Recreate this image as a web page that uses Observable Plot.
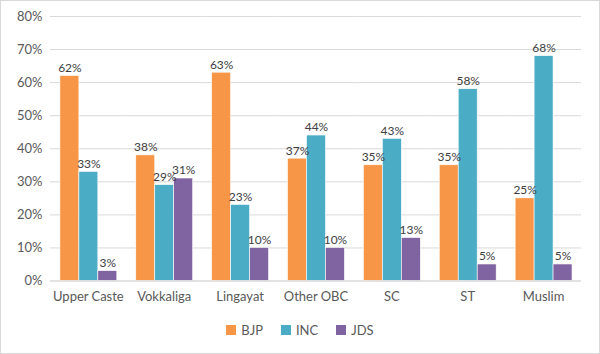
<!DOCTYPE html>
<html>
<head>
<meta charset="utf-8">
<script src="https://cdn.jsdelivr.net/npm/d3@7"></script>
<script src="https://cdn.jsdelivr.net/npm/@observablehq/plot@0.6"></script>
<style>
  html, body { margin: 0; padding: 0; background: #fff; }
  #frame { width: 600px; height: 354px; box-sizing: border-box; border: 1px solid #d9d9d9; position: relative; overflow: hidden; font-family: Lato, "Open Sans", sans-serif; }
  #chart { position: absolute; left: -1px; top: -1px; }
  #legend { position: absolute; left: 0; right: 0; top: 321px; display: flex; justify-content: center; gap: 18px; font-size: 13px; color: #595959; }
  #legend span.item { display: flex; align-items: center; gap: 5px; }
  #legend span.sw { width: 10px; height: 10px; display: inline-block; }
</style>
</head>
<body>
<div id="frame"><div id="chart"></div><div id="legend"></div></div>
<script>
const categories = ["Upper Caste", "Vokkaliga", "Lingayat", "Other OBC", "SC", "ST", "Muslim"];
const parties = ["BJP", "INC", "JDS"];
const colors = ["#F79646", "#4BACC6", "#8064A2"];
const bjp = [62, 38, 63, 37, 35, 35, 25];
const inc = [33, 29, 23, 44, 43, 58, 68];
const jds = [3, 31, 10, 10, 13, 5, 5];
const yTicks = [0, 10, 20, 30, 40, 50, 60, 70, 80];

const series = {BJP: bjp, INC: inc, JDS: jds};
const data = [];
categories.forEach((c, i) => parties.forEach(p => data.push({cat: c, party: p, value: series[p][i]})));

const chart = Plot.plot({
  width: 600,
  height: 310,
  marginLeft: 48,
  marginRight: 16,
  marginTop: 16,
  marginBottom: 29,
  style: {fontFamily: "Lato, 'Open Sans', sans-serif", fontSize: "13px", color: "#595959", background: "transparent"},
  fx: {domain: categories, padding: 0, label: null, axis: null},
  x: {domain: parties, paddingInner: 0, paddingOuter: 0.5, axis: null},
  y: {domain: [0, 80], label: null},
  color: {domain: parties, range: colors},
  marks: [
    Plot.gridY(yTicks, {stroke: "#d9d9d9", strokeOpacity: 1}),
    Plot.barY(data, {fx: "cat", x: "party", y: "value", fill: "party", stroke: "white", strokeWidth: 0.6}),
    Plot.ruleY([0], {stroke: "#d9d9d9"}),
    Plot.text(data, {fx: "cat", x: "party", y: "value", text: d => d.value + "%", dy: -8, fill: "#404040", fontSize: 12}),
    Plot.axisY(yTicks, {tickSize: 0, tickPadding: 8, tickFormat: d => d + "%", label: null, fill: "#595959"}),
    Plot.axisFx({anchor: "bottom", tickSize: 0, tickPadding: 11, label: null, fill: "#595959"})
  ]
});
document.getElementById("chart").appendChild(chart);

const legend = document.getElementById("legend");
parties.forEach((p, i) => {
  const item = document.createElement("span");
  item.className = "item";
  const sw = document.createElement("span");
  sw.className = "sw";
  sw.style.background = colors[i];
  const t = document.createElement("span");
  t.textContent = p;
  item.appendChild(sw);
  item.appendChild(t);
  legend.appendChild(item);
});
</script>
</body>
</html>
